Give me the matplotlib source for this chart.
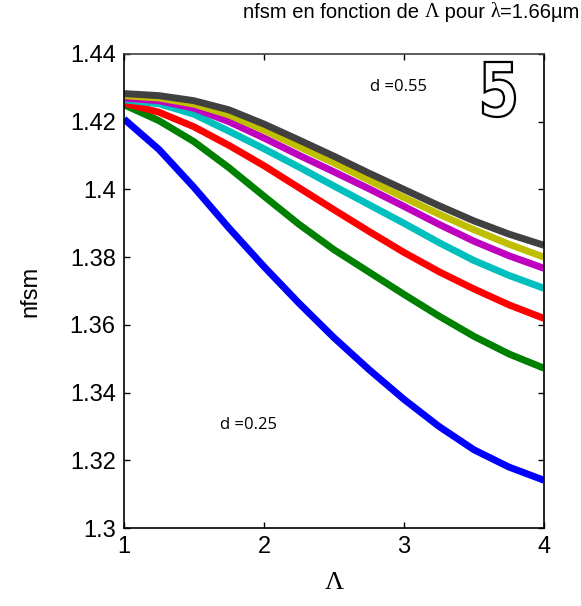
import matplotlib.pyplot as plt
from matplotlib.textpath import TextPath
from matplotlib.patches import PathPatch
from matplotlib.font_manager import FontProperties
from matplotlib.transforms import Affine2D, IdentityTransform

# Valeurs de Lambda (pas)
lam = [1.0, 1.25, 1.5, 1.75, 2.0, 2.25, 2.5, 2.75, 3.0, 3.25, 3.5, 3.75, 4.0]

# nfsm pour chaque d (de 0.25 a 0.55)
n_blue = [1.4208, 1.4118, 1.4006, 1.3886, 1.3772, 1.3664, 1.3562, 1.3468, 1.3380, 1.3300, 1.3231, 1.3180, 1.3141]
n_green = [1.4250, 1.4203, 1.4141, 1.4064, 1.3980, 1.3897, 1.3822, 1.3756, 1.3690, 1.3626, 1.3566, 1.3514, 1.3472]
n_red = [1.4255, 1.4228, 1.4185, 1.4130, 1.4070, 1.4005, 1.3940, 1.3876, 1.3814, 1.3757, 1.3706, 1.3659, 1.3619]
n_cyan = [1.4265, 1.4253, 1.4222, 1.4172, 1.4120, 1.4066, 1.4010, 1.3955, 1.3900, 1.3843, 1.3790, 1.3746, 1.3708]
n_magenta = [1.4270, 1.4262, 1.4240, 1.4200, 1.4152, 1.4101, 1.4052, 1.4002, 1.3950, 1.3897, 1.3847, 1.3804, 1.3767]
n_olive = [1.4277, 1.4270, 1.4252, 1.4220, 1.4175, 1.4126, 1.4078, 1.4027, 1.3976, 1.3927, 1.3881, 1.3838, 1.3800]
n_gray = [1.4283, 1.4277, 1.4262, 1.4235, 1.4193, 1.4146, 1.4098, 1.4048, 1.4000, 1.3952, 1.3907, 1.3868, 1.3835]

series = [n_blue, n_green, n_red, n_cyan, n_magenta, n_olive, n_gray]
colors = ['#0000ff', '#008000', '#ff0000', '#00bfbf', '#bf00bf', '#bfbf00', '#404040']

yticks = [1.3, 1.32, 1.34, 1.36, 1.38, 1.4, 1.42, 1.44]
ytick_labels = ['1.3', '1.32', '1.34', '1.36', '1.38', '1.4', '1.42', '1.44']
xticks = [1, 2, 3, 4]

plt.rcParams['font.family'] = ['Liberation Sans', 'DejaVu Sans']
serif = ['Liberation Serif', 'DejaVu Serif']

fig = plt.figure(figsize=(5.81, 6.06), dpi=100)
ax = fig.add_axes([0.2134, 0.1287, 0.7229, 0.7822])

for s, c in zip(series, colors):
    ax.plot(lam, s, color=c, linewidth=5, solid_joinstyle='round', solid_capstyle='butt')

ax.set_xlim(1, 4)
ax.set_ylim(1.3, 1.44)
ax.set_xticks(xticks)
ax.set_xticklabels([str(x) for x in xticks])
ax.set_yticks(yticks)
ax.set_yticklabels(ytick_labels)
ax.tick_params(direction='in', length=4, width=1, labelsize=17, top=True, right=True, pad=6)
for sp in ax.spines.values():
    sp.set_linewidth(1.2)
ax.spines['top'].set_color('#404040')

ax.set_ylabel('nfsm', fontsize=17, labelpad=20)
ax.set_xlabel('Λ', fontsize=19, family=serif, labelpad=10)

# titre en morceaux (Λ et λ en police serif)
t1 = fig.text(0.418, 0.980, 'nfsm en fonction de ', fontsize=14.5, ha='left', va='center')
t2 = ax.annotate('Λ', xy=(1, 0.5), xycoords=t1, fontsize=14.5, family=serif,
                 ha='left', va='center', annotation_clip=False)
t3 = ax.annotate(' pour ', xy=(1, 0.5), xycoords=t2, fontsize=14.5,
                 ha='left', va='center', annotation_clip=False)
t4 = ax.annotate('λ', xy=(1, 0.5), xycoords=t3, fontsize=14.5, family=serif,
                 ha='left', va='center', annotation_clip=False)
t5 = ax.annotate('=1.66µm', xy=(1, 0.5), xycoords=t4, fontsize=14.5,
                 ha='left', va='center', annotation_clip=False)

ax.text(0.586, 0.930, 'd =0.55', transform=ax.transAxes, fontsize=12,
        family=['Open Sans', 'DejaVu Sans'], ha='left', va='center')
ax.text(0.229, 0.217, 'd =0.25', transform=ax.transAxes, fontsize=12,
        family=['Open Sans', 'DejaVu Sans'], ha='left', va='center')

# grand "5" evide, etroit
tp = TextPath((0, 0), '5', size=1, prop=FontProperties(family='DejaVu Sans', weight='bold'))
ext = tp.get_extents()
left, right, bottom, top = 483, 515, 606 - 117, 606 - 62
tr = (Affine2D().translate(-ext.x0, -ext.y0)
      .scale((right - left) / ext.width, (top - bottom) / ext.height)
      .translate(left, bottom))
fig.patches.append(PathPatch(tr.transform_path(tp), transform=IdentityTransform(),
                             facecolor='white', edgecolor='black', linewidth=1.6,
                             figure=fig))

fig.savefig('out.png', dpi=100)
